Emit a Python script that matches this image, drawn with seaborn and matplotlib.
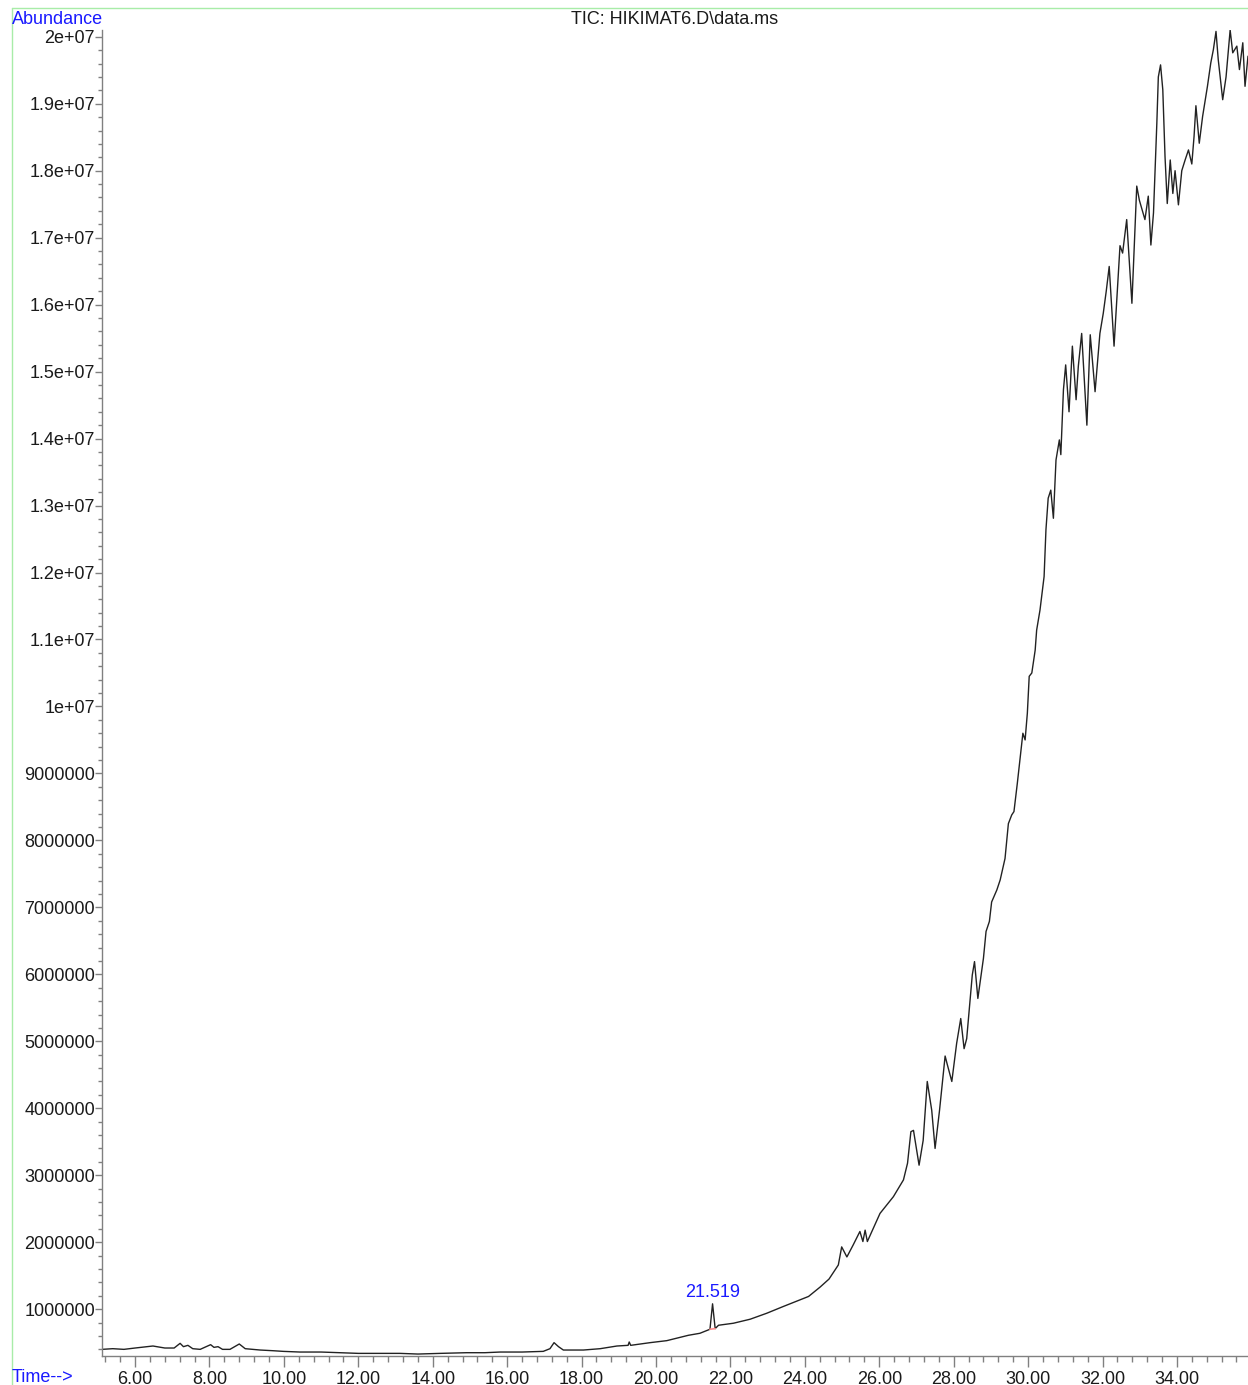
import numpy as np
import pandas as pd
import seaborn as sns
import matplotlib
matplotlib.use('Agg')
import matplotlib.pyplot as plt
from matplotlib.lines import Line2D
from matplotlib.ticker import MultipleLocator, FuncFormatter

# region data (time in min, abundance in millions)
time_min = [5.11, 5.40, 5.70, 6.00, 6.48, 6.80, 7.05, 7.21, 7.30, 7.42, 7.55, 7.75,
            8.03, 8.12, 8.23, 8.35, 8.55, 8.80, 8.96, 9.36, 9.70, 9.98, 10.43, 11.00,
            11.50, 12.00, 12.60, 13.12, 13.60, 14.20, 14.91, 15.40, 15.81, 16.40, 16.97,
            17.15, 17.26, 17.38, 17.51, 18.05, 18.50, 18.95, 19.25, 19.28, 19.32, 19.84,
            20.29, 20.87, 21.18, 21.45, 21.52, 21.59, 21.68, 22.08, 22.53, 22.98, 23.42,
            23.87, 24.10, 24.41, 24.65, 24.90, 24.99, 25.13, 25.30, 25.48, 25.56, 25.62,
            25.68, 26.02, 26.38, 26.65, 26.76, 26.85, 26.92, 27.07, 27.18, 27.29, 27.41,
            27.50, 27.62, 27.77, 27.83, 27.95, 28.08, 28.19, 28.28, 28.35, 28.50, 28.56,
            28.65, 28.80, 28.87, 28.96, 29.02, 29.16, 29.25, 29.38, 29.47, 29.56, 29.62,
            29.71, 29.78, 29.86, 29.92, 29.98, 30.03, 30.10, 30.19, 30.23, 30.32, 30.43,
            30.48, 30.54, 30.61, 30.68, 30.75, 30.84, 30.88, 30.95, 31.01, 31.10, 31.19,
            31.29, 31.35, 31.44, 31.58, 31.67, 31.80, 31.93, 32.02, 32.10, 32.18, 32.31,
            32.47, 32.54, 32.65, 32.79, 32.92, 32.99, 33.14, 33.23, 33.30, 33.37, 33.46,
            33.50, 33.56, 33.62, 33.68, 33.74, 33.82, 33.89, 33.95, 34.04, 34.13, 34.22,
            34.31, 34.40, 34.46, 34.51, 34.60, 34.69, 34.82, 34.91, 34.98, 35.05, 35.11,
            35.23, 35.32, 35.43, 35.50, 35.61, 35.68, 35.77, 35.83, 35.91]
abundance_m = [0.40, 0.41, 0.40, 0.42, 0.45, 0.42, 0.42, 0.49, 0.44, 0.46, 0.41, 0.40,
               0.47, 0.43, 0.44, 0.40, 0.40, 0.48, 0.41, 0.39, 0.38, 0.37, 0.36, 0.36,
               0.35, 0.34, 0.34, 0.34, 0.33, 0.34, 0.35, 0.35, 0.36, 0.36, 0.37,
               0.41, 0.50, 0.44, 0.39, 0.39, 0.41, 0.45, 0.46, 0.51, 0.46, 0.50,
               0.53, 0.61, 0.64, 0.70, 1.08, 0.71, 0.76, 0.79, 0.85, 0.94, 1.04,
               1.14, 1.19, 1.33, 1.45, 1.66, 1.93, 1.78, 1.96, 2.16, 2.01, 2.18,
               2.01, 2.43, 2.68, 2.93, 3.18, 3.65, 3.67, 3.15, 3.52, 4.40, 3.97,
               3.40, 3.97, 4.78, 4.65, 4.40, 4.97, 5.34, 4.89, 5.04, 5.99, 6.19,
               5.64, 6.24, 6.64, 6.79, 7.08, 7.26, 7.41, 7.73, 8.25, 8.38, 8.43,
               8.85, 9.20, 9.60, 9.50, 9.90, 10.45, 10.50, 10.84, 11.14, 11.44, 11.94,
               12.64, 13.11, 13.23, 12.81, 13.68, 13.98, 13.76, 14.73, 15.10, 14.40, 15.38,
               14.58, 15.08, 15.57, 14.20, 15.55, 14.70, 15.57, 15.87, 16.20, 16.57, 15.38,
               16.88, 16.77, 17.27, 16.02, 17.77, 17.56, 17.27, 17.62, 16.89, 17.37, 18.71,
               19.40, 19.58, 19.21, 18.21, 17.51, 18.16, 17.66, 18.00, 17.49, 18.00, 18.16,
               18.31, 18.10, 18.51, 18.97, 18.41, 18.81, 19.26, 19.61, 19.81, 20.08, 19.66,
               19.06, 19.40, 20.10, 19.76, 19.86, 19.51, 19.91, 19.26, 19.71]

peak_time = 21.519
peak_label = '21.519'
peak_base_times = [21.45, 21.59]
peak_base_vals = [0.70, 0.71]
# endregion

df = pd.DataFrame({'time': time_min, 'abundance': np.array(abundance_m) * 1e6})

sns.set_theme(style='white')
plt.rcParams['font.family'] = ['Liberation Sans', 'DejaVu Sans']

fig = plt.figure(figsize=(12.48, 13.85), dpi=100)
ax = fig.add_axes([0.0817, 0.0209, 0.9183, 0.9574])

sns.lineplot(data=df, x='time', y='abundance', ax=ax, color='#222222',
             linewidth=1.0, estimator=None, sort=False)

# integration baseline under the labelled peak
ax.plot(peak_base_times, np.array(peak_base_vals) * 1e6, color='#ff8c8c', lw=1.2)
peak_val = df.loc[(df['time'] - peak_time).abs().idxmin(), 'abundance']
ax.annotate(peak_label, xy=(peak_time, peak_val), xytext=(0, 2),
            textcoords='offset points', ha='center', va='bottom',
            color='#1a1aff', fontsize=13)

ax.set_xlim(5.11, 35.91)
ax.set_ylim(0.3e6, 2.01e7)

for s in ['top', 'right']:
    ax.spines[s].set_visible(False)
for s in ['left', 'bottom']:
    ax.spines[s].set_color('#808080')
    ax.spines[s].set_linewidth(1)

ax.xaxis.set_major_locator(MultipleLocator(2))
ax.xaxis.set_minor_locator(MultipleLocator(0.4))
ax.xaxis.set_major_formatter(FuncFormatter(lambda v, p: f'{v:.2f}'))
ax.yaxis.set_major_locator(MultipleLocator(1e6))
ax.yaxis.set_minor_locator(MultipleLocator(2e5))
ax.yaxis.set_major_formatter(FuncFormatter(
    lambda v, p: ('%g' % v) if v >= 1e7 else f'{int(round(v))}'))

ax.tick_params(axis='x', which='major', length=8, width=1, color='#808080',
               direction='out', labelsize=13, pad=2.5, labelcolor='#1a1a1a', bottom=True)
ax.tick_params(axis='x', which='minor', length=4, width=1, color='#808080',
               direction='out', bottom=True)
ax.tick_params(axis='y', which='major', length=5, width=1, color='#808080',
               direction='out', labelsize=13, pad=0, labelcolor='#1a1a1a', left=True)
ax.tick_params(axis='y', which='minor', length=3, width=1, color='#808080',
               direction='out', left=True)
ax.set_xlabel('')
ax.set_ylabel('')
ax.grid(False)

# header / footer texts
fig.text(12 / 1248, 1 - 20 / 1385, 'Abundance', color='#1a1aff', fontsize=13,
         ha='left', va='center')
fig.text(675 / 1248, 1 - 20 / 1385, 'TIC: HIKIMAT6.D\\data.ms', color='#1a1a1a',
         fontsize=13, ha='center', va='center')
fig.text(12 / 1248, 1 - 1377 / 1385, 'Time-->', color='#1a1aff', fontsize=13,
         ha='left', va='center')

# light green frame
fx = 12 / 1248
fy = 1 - 8 / 1385
fig.add_artist(Line2D([fx, fx], [0, fy], transform=fig.transFigure, color='#a8eca8', lw=1))
fig.add_artist(Line2D([fx, 1], [fy, fy], transform=fig.transFigure, color='#a8eca8', lw=1))

fig.savefig('out.png', dpi=100)
